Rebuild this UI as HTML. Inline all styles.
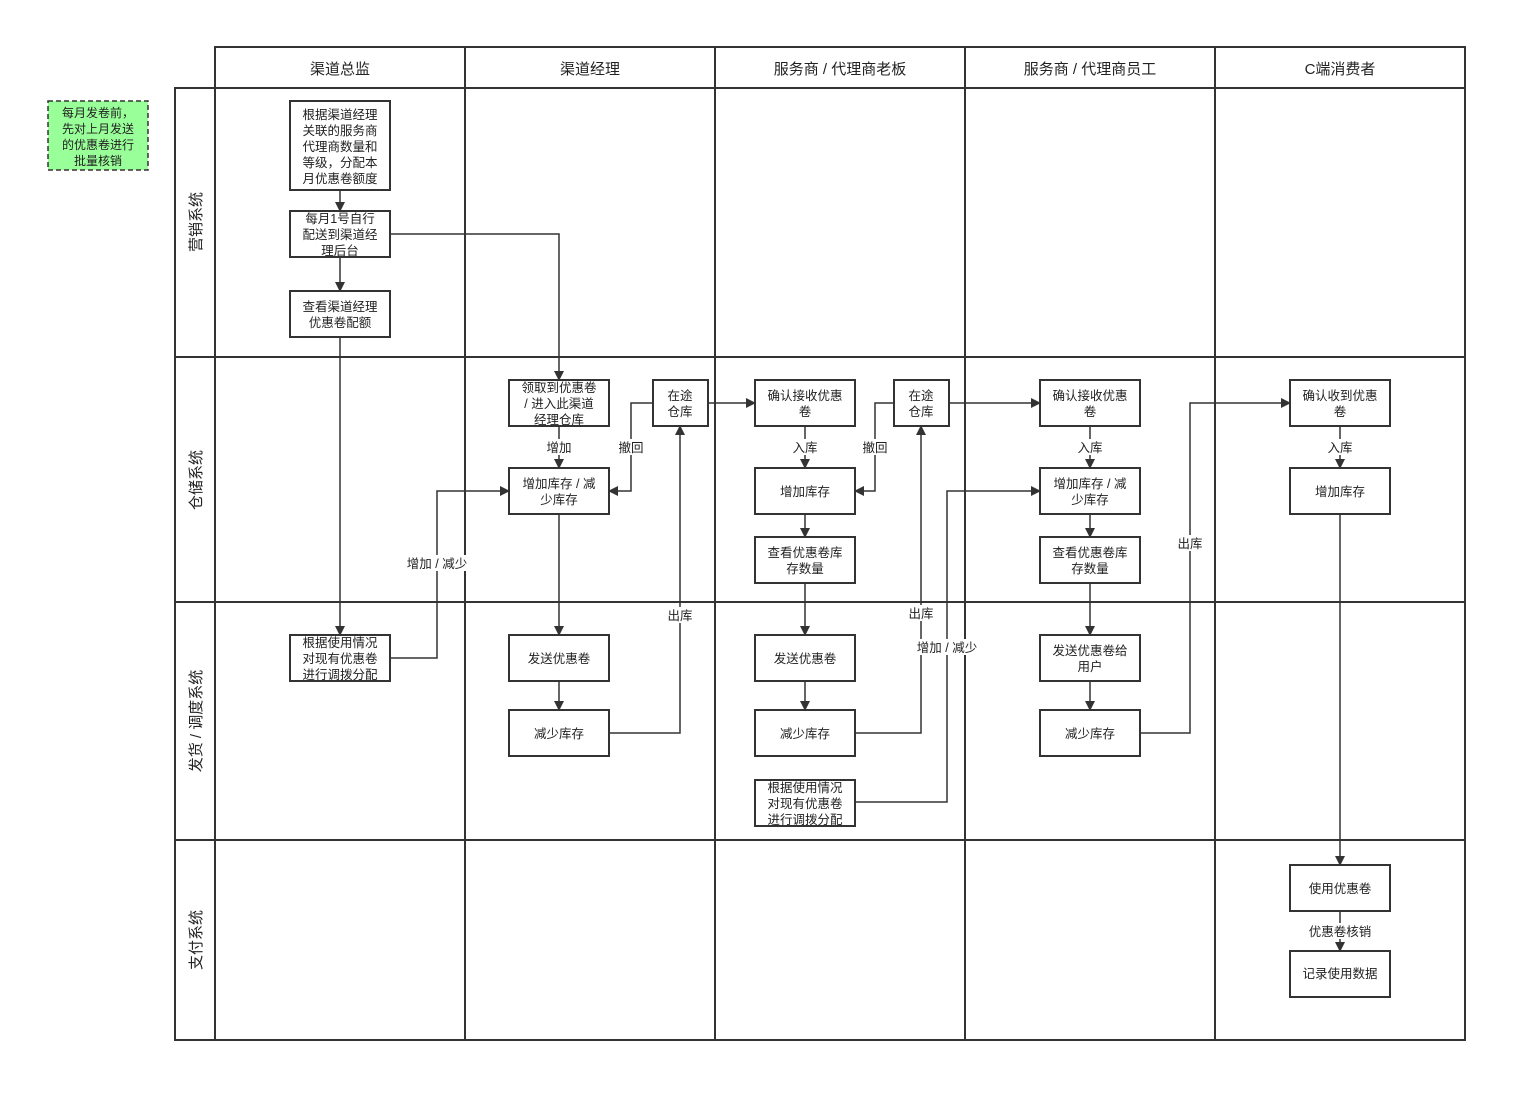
<!DOCTYPE html>
<html><head><meta charset="utf-8"><style>
html,body{margin:0;padding:0;background:#fff}
svg text{font-family:"Liberation Sans","Noto Sans CJK SC",sans-serif;fill:#222}
</style></head><body>
<svg width="1527" height="1103" viewBox="0 0 1527 1103" xmlns="http://www.w3.org/2000/svg">
<defs><marker id="a" markerWidth="10" markerHeight="10" refX="9" refY="5" orient="auto" markerUnits="userSpaceOnUse"><path d="M0,0 L10,5 L0,10 Z" fill="#333"/></marker></defs>
<g stroke="#333" stroke-width="2" fill="none">
<rect x="215" y="47" width="1250" height="41"/>
<rect x="175" y="88" width="1290" height="952"/>
<line x1="215" y1="88" x2="215" y2="1040"/>
<line x1="465" y1="47" x2="465" y2="1040"/>
<line x1="715" y1="47" x2="715" y2="1040"/>
<line x1="965" y1="47" x2="965" y2="1040"/>
<line x1="1215" y1="47" x2="1215" y2="1040"/>
<line x1="175" y1="357" x2="1465" y2="357"/>
<line x1="175" y1="602" x2="1465" y2="602"/>
<line x1="175" y1="840" x2="1465" y2="840"/>
</g>
<g font-size="15" text-anchor="middle">
<text x="340" y="74">渠道总监</text><text x="590" y="74">渠道经理</text>
<text x="840" y="74">服务商 / 代理商老板</text><text x="1090" y="74">服务商 / 代理商员工</text>
<text x="1340" y="74">C端消费者</text>
<text transform="translate(201,222) rotate(-90)">营销系统</text>
<text transform="translate(201,480) rotate(-90)">仓储系统</text>
<text transform="translate(201,721) rotate(-90)">发货 / 调度系统</text>
<text transform="translate(201,940) rotate(-90)">支付系统</text>
</g>
<rect x="48" y="101" width="100" height="69" fill="#99ff99" stroke="#333" stroke-width="1.5" stroke-dasharray="5,3"/>
<g font-size="12" text-anchor="middle">
<text x="98" y="117">每月发卷前，</text><text x="98" y="133">先对上月发送</text><text x="98" y="149">的优惠卷进行</text><text x="98" y="165">批量核销</text>
</g>
<g stroke="#333" stroke-width="2" fill="#fff">
<rect x="290" y="101" width="100" height="89"/>
<rect x="290" y="211" width="100" height="46"/>
<rect x="290" y="291" width="100" height="46"/>
<rect x="290" y="635" width="100" height="46"/>
<rect x="509" y="380" width="100" height="46"/>
<rect x="653" y="380" width="55" height="46"/>
<rect x="509" y="468" width="100" height="46"/>
<rect x="509" y="635" width="100" height="46"/>
<rect x="509" y="710" width="100" height="46"/>
<rect x="755" y="380" width="100" height="46"/>
<rect x="894" y="380" width="55" height="46"/>
<rect x="755" y="468" width="100" height="46"/>
<rect x="755" y="537" width="100" height="46"/>
<rect x="755" y="635" width="100" height="46"/>
<rect x="755" y="710" width="100" height="46"/>
<rect x="755" y="780" width="100" height="46"/>
<rect x="1040" y="380" width="100" height="46"/>
<rect x="1040" y="468" width="100" height="46"/>
<rect x="1040" y="537" width="100" height="46"/>
<rect x="1040" y="635" width="100" height="46"/>
<rect x="1040" y="710" width="100" height="46"/>
<rect x="1290" y="380" width="100" height="46"/>
<rect x="1290" y="468" width="100" height="46"/>
<rect x="1290" y="865" width="100" height="46"/>
<rect x="1290" y="951" width="100" height="46"/>
</g>
<g font-size="12.5" text-anchor="middle">
<text x="340" y="119">根据渠道经理</text><text x="340" y="135">关联的服务商</text><text x="340" y="151">代理商数量和</text><text x="340" y="167">等级，分配本</text><text x="340" y="183">月优惠卷额度</text>
<text x="340" y="223">每月1号自行</text><text x="340" y="239">配送到渠道经</text><text x="340" y="255">理后台</text>
<text x="340" y="311">查看渠道经理</text><text x="340" y="327">优惠卷配额</text>
<text x="340" y="647">根据使用情况</text><text x="340" y="663">对现有优惠卷</text><text x="340" y="679">进行调拨分配</text>
<text x="559" y="392">领取到优惠卷</text><text x="559" y="408">/ 进入此渠道</text><text x="559" y="424">经理仓库</text>
<text x="680" y="400">在途</text><text x="680" y="416">仓库</text>
<text x="559" y="488">增加库存 / 减</text><text x="559" y="504">少库存</text>
<text x="559" y="663">发送优惠卷</text><text x="559" y="738">减少库存</text>
<text x="805" y="400">确认接收优惠</text><text x="805" y="416">卷</text>
<text x="921" y="400">在途</text><text x="921" y="416">仓库</text>
<text x="805" y="496">增加库存</text>
<text x="805" y="557">查看优惠卷库</text><text x="805" y="573">存数量</text>
<text x="805" y="663">发送优惠卷</text><text x="805" y="738">减少库存</text>
<text x="805" y="792">根据使用情况</text><text x="805" y="808">对现有优惠卷</text><text x="805" y="824">进行调拨分配</text>
<text x="1090" y="400">确认接收优惠</text><text x="1090" y="416">卷</text>
<text x="1090" y="488">增加库存 / 减</text><text x="1090" y="504">少库存</text>
<text x="1090" y="557">查看优惠卷库</text><text x="1090" y="573">存数量</text>
<text x="1090" y="655">发送优惠卷给</text><text x="1090" y="671">用户</text>
<text x="1090" y="738">减少库存</text>
<text x="1340" y="400">确认收到优惠</text><text x="1340" y="416">卷</text>
<text x="1340" y="496">增加库存</text>
<text x="1340" y="893">使用优惠卷</text><text x="1340" y="978">记录使用数据</text>
</g>
<g stroke="#333" stroke-width="1.5" fill="none" marker-end="url(#a)">
<path d="M340,190V211"/><path d="M340,257V291"/>
<path d="M390,234H559V380"/>
<path d="M340,337V635"/>
<path d="M390,658H437V491H509"/>
<path d="M559,426V468"/>
<path d="M653,403H631V491H609"/>
<path d="M559,514V635"/><path d="M559,681V710"/>
<path d="M609,733H680V426"/>
<path d="M708,403H755"/>
<path d="M805,426V468"/>
<path d="M894,403H875V491H855"/>
<path d="M805,514V537"/><path d="M805,583V635"/><path d="M805,681V710"/>
<path d="M855,733H921V426"/>
<path d="M855,802H947V491H1040"/>
<path d="M949,403H1040"/>
<path d="M1090,426V468"/><path d="M1090,514V537"/><path d="M1090,583V635"/><path d="M1090,681V710"/>
<path d="M1140,733H1190V403H1290"/>
<path d="M1340,426V468"/><path d="M1340,514V865"/><path d="M1340,911V951"/>
</g>
<g font-size="12.5" text-anchor="middle">
<rect x="402" y="555" width="70" height="16" fill="#fff"/><text x="437" y="568">增加 / 减少</text>
<rect x="544" y="439" width="30" height="16" fill="#fff"/><text x="559" y="452">增加</text>
<rect x="616" y="439" width="30" height="16" fill="#fff"/><text x="631" y="452">撤回</text>
<rect x="665" y="607" width="30" height="16" fill="#fff"/><text x="680" y="620">出库</text>
<rect x="790" y="439" width="30" height="16" fill="#fff"/><text x="805" y="452">入库</text>
<rect x="860" y="439" width="30" height="16" fill="#fff"/><text x="875" y="452">撤回</text>
<rect x="906" y="605" width="30" height="16" fill="#fff"/><text x="921" y="618">出库</text>
<rect x="912" y="639" width="70" height="16" fill="#fff"/><text x="947" y="652">增加 / 减少</text>
<rect x="1075" y="439" width="30" height="16" fill="#fff"/><text x="1090" y="452">入库</text>
<rect x="1175" y="535" width="30" height="16" fill="#fff"/><text x="1190" y="548">出库</text>
<rect x="1325" y="439" width="30" height="16" fill="#fff"/><text x="1340" y="452">入库</text>
<rect x="1305" y="923" width="70" height="16" fill="#fff"/><text x="1340" y="936">优惠卷核销</text>
</g>
</svg>
</body></html>
